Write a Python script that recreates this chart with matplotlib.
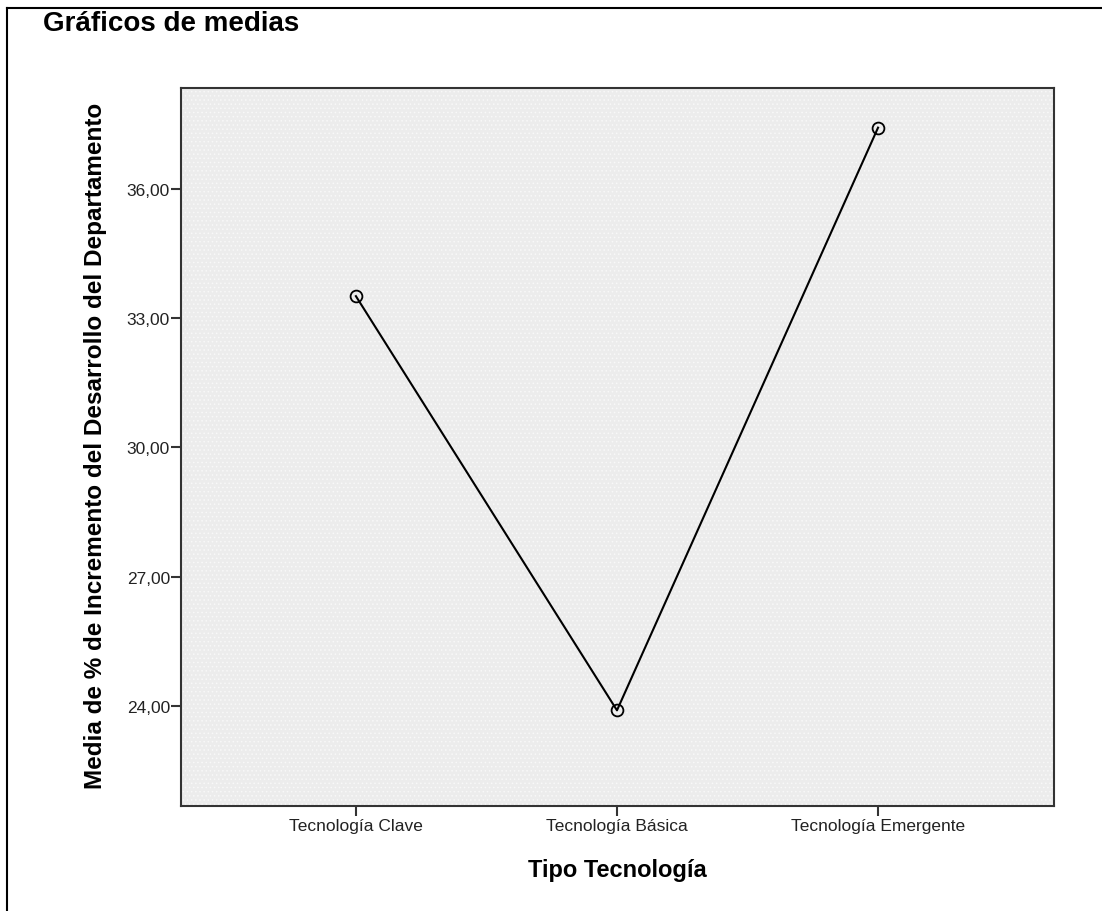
import matplotlib
matplotlib.use("Agg")
import matplotlib.pyplot as plt
from matplotlib.lines import Line2D
from matplotlib.patches import Rectangle

# data
categories = ["Tecnología Clave", "Tecnología Básica", "Tecnología Emergente"]
medias = [33.51, 23.90, 37.42]
yticks = [24, 27, 30, 33, 36]

plt.rcParams["font.family"] = ["Liberation Sans", "DejaVu Sans"]
plt.rcParams["hatch.linewidth"] = 0.6

fig = plt.figure(figsize=(11.02, 9.12), dpi=100)
W, H = 1102, 912

# axes box in pixels: left 181, right 1054, top 89, bottom 807
ax = fig.add_axes([181 / W, 1 - 807 / H, (1054 - 181) / W, (807 - 89) / H])
ax.set_facecolor("#ececec")
# dotted texture like the SPSS background
ax.add_patch(Rectangle((0, 0), 1, 1, transform=ax.transAxes, facecolor="none",
                       edgecolor="#f8f8f8", hatch="....", lw=0, zorder=0))

x = range(len(categories))
ax.plot(x, medias, color="black", lw=1.5, marker="o", markersize=8.5,
        markerfacecolor="none", markeredgecolor="black", markeredgewidth=1.3, zorder=3)

ax.set_xlim(-0.67, 2.674)
ax.set_ylim(21.68, 38.34)
ax.set_xticks(list(x))
ax.set_xticklabels(categories, fontsize=12.5, color="#222222")
ax.set_yticks(yticks)
ax.set_yticklabels([f"{v:.2f}".replace(".", ",") for v in yticks], fontsize=12.5, color="#222222")
ax.tick_params(length=7.5, width=1.5, color="#333333")
ax.tick_params(axis="y", pad=0.5)
ax.tick_params(axis="x", pad=1.5)
for s in ax.spines.values():
    s.set_color("#333333")
    s.set_linewidth(1.5)

# axis titles placed in pixels
fig.text(617 / W, 1 - 877 / H, "Tipo Tecnología", fontsize=17, fontweight="bold",
         ha="center", va="baseline")
fig.text(96 / W, 1 - 446 / H, "Media de % de Incremento del Desarrollo del Departamento",
         fontsize=17.5, fontweight="bold", rotation=90, ha="center", va="center")

fig.text(43 / W, 1 - 31 / H, "Gráficos de medias", fontsize=20, fontweight="bold",
         ha="left", va="baseline")

# page frame lines
fig.add_artist(Line2D([7 / W, 1], [1 - 8.5 / H, 1 - 8.5 / H], color="black", lw=1.5))
fig.add_artist(Line2D([7 / W, 7 / W], [0, 1 - 8.5 / H], color="black", lw=1.5))

fig.savefig("out.png", dpi=100)
